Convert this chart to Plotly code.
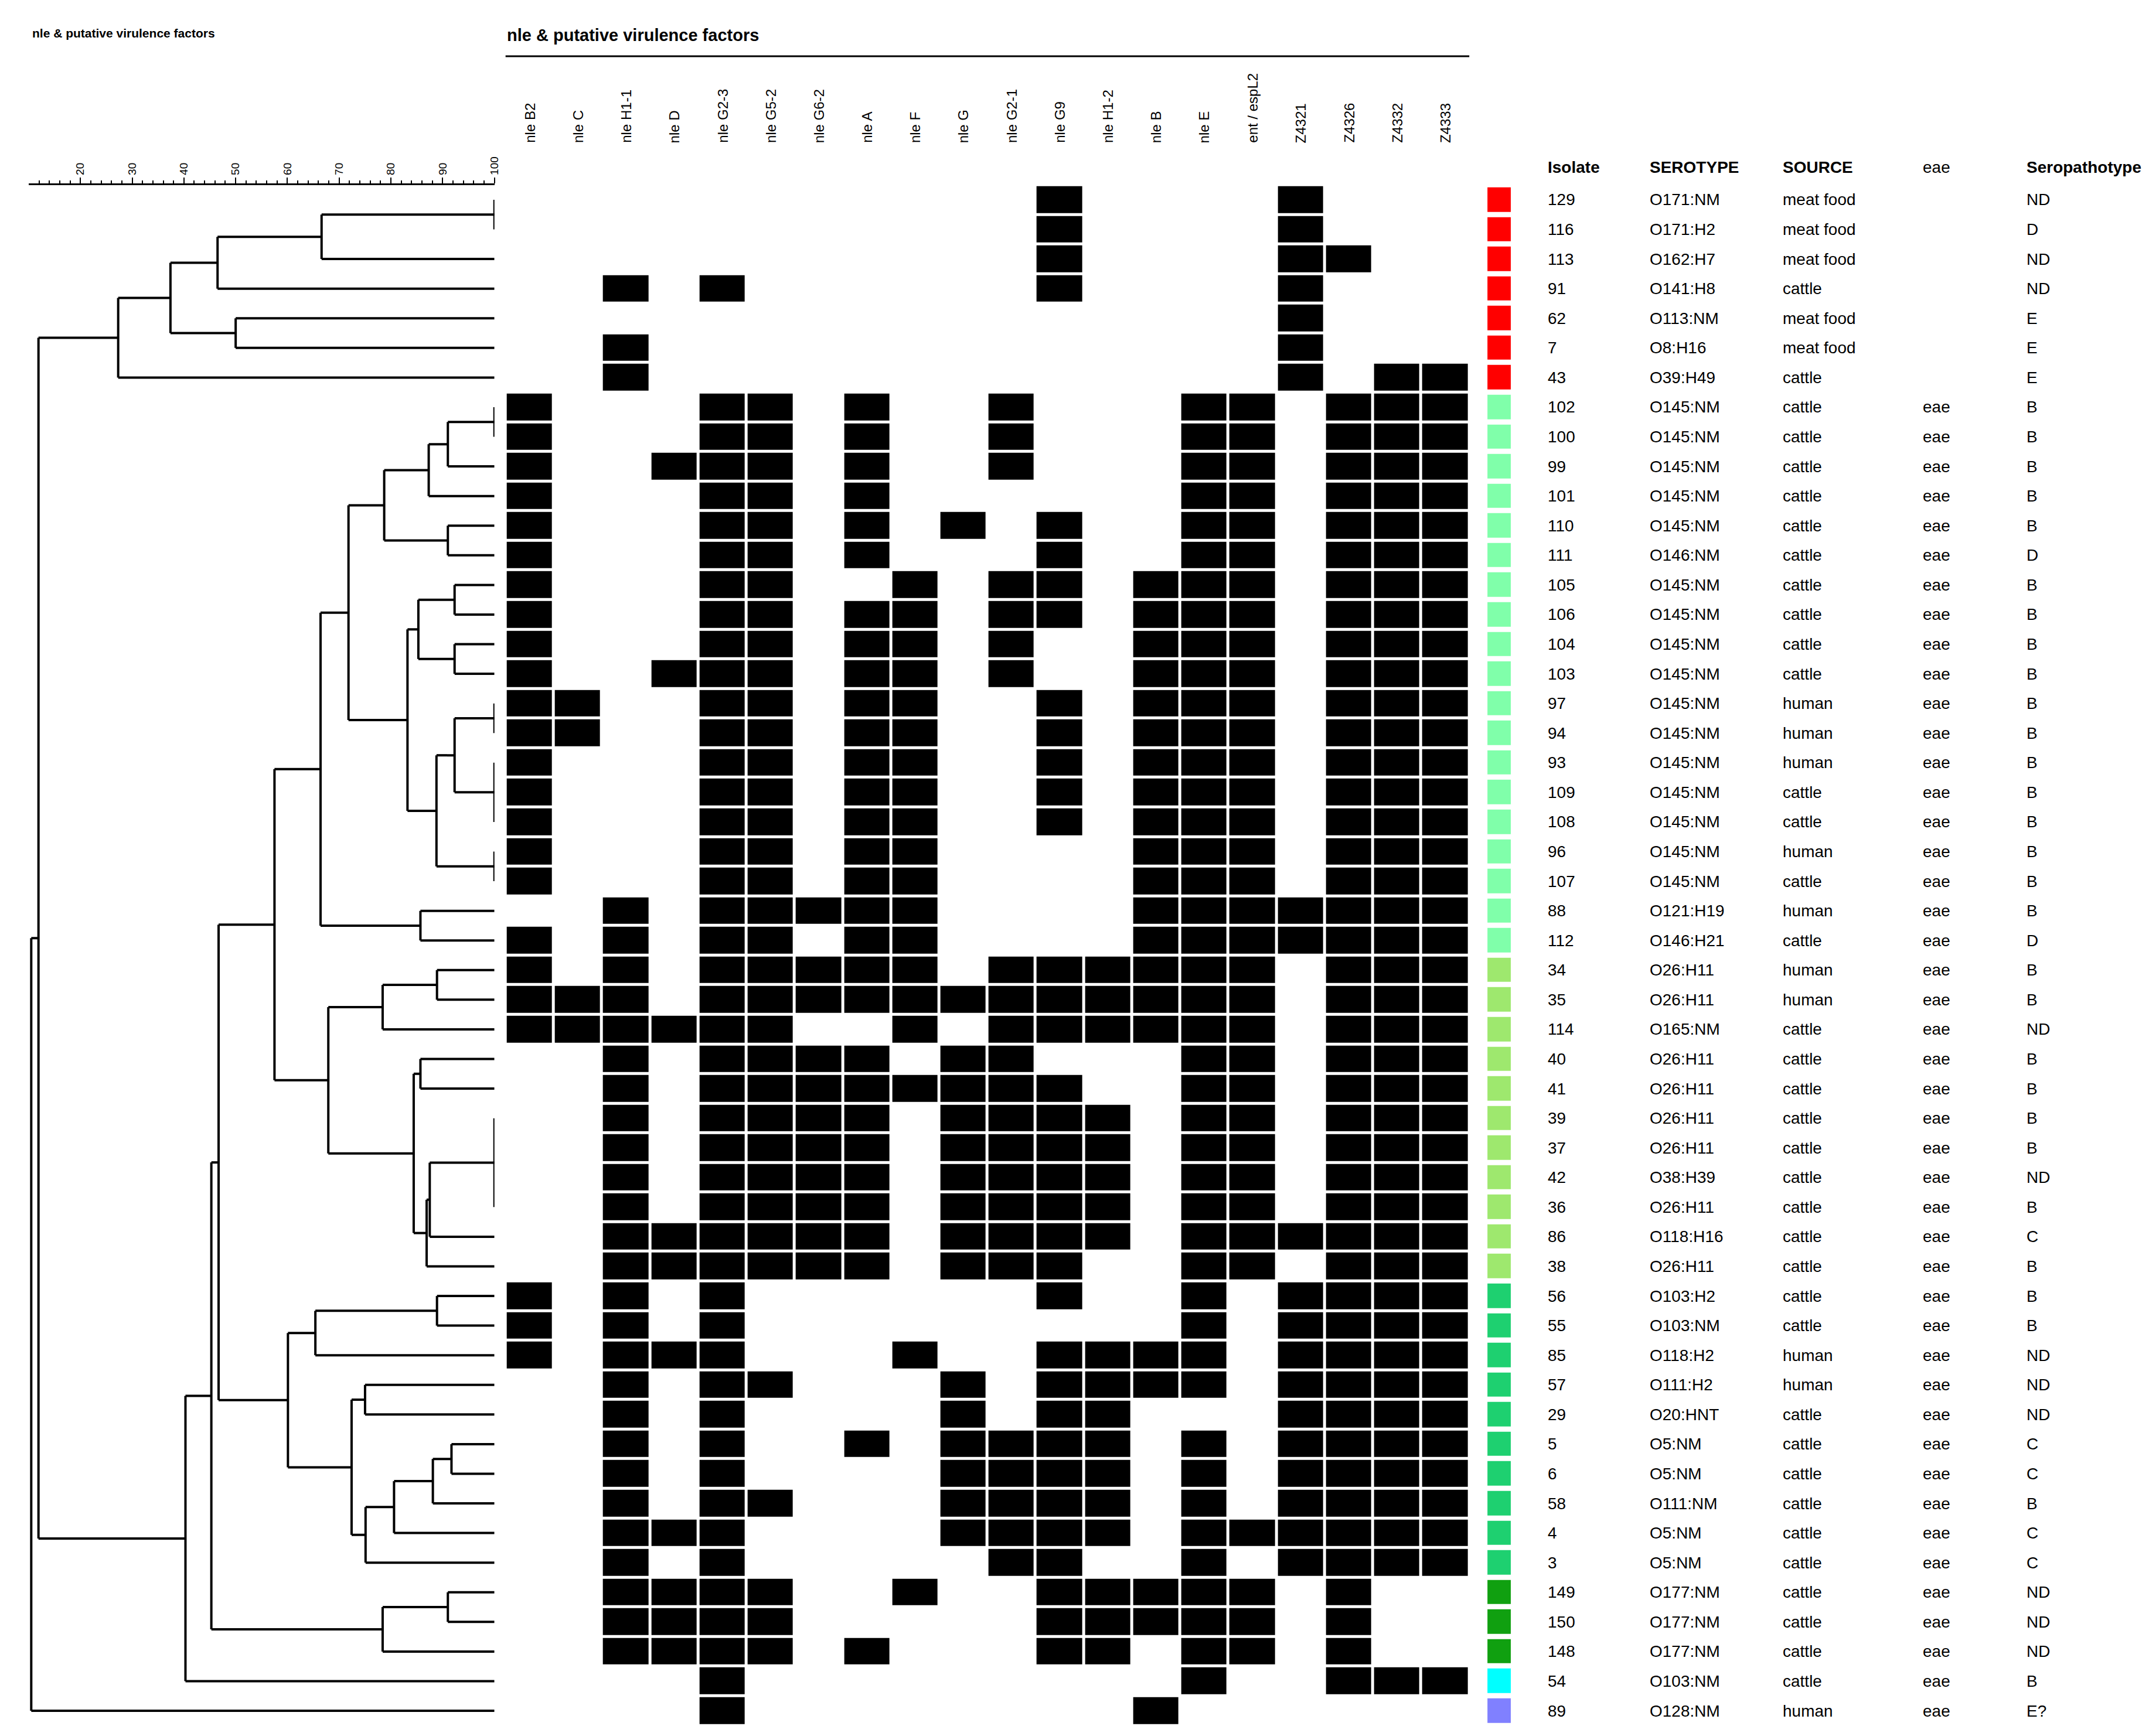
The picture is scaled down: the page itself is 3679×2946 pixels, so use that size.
import plotly.graph_objects as go

W, H = 3679, 2946
FONT = "Liberation Sans, Arial"

genes = ["nle B2", "nle C", "nle H1-1", "nle D", "nle G2-3", "nle G5-2", "nle G6-2", "nle A", "nle F", "nle G",
         "nle G2-1", "nle G9", "nle H1-2", "nle B", "nle E", "ent / espL2", "Z4321", "Z4326", "Z4332", "Z4333"]

isolates = ["129", "116", "113", "91", "62", "7", "43", "102", "100", "99", "101", "110", "111", "105", "106", "104",
            "103", "97", "94", "93", "109", "108", "96", "107", "88", "112", "34", "35", "114", "40", "41", "39", "37",
            "42", "36", "86", "38", "56", "55", "85", "57", "29", "5", "6", "58", "4", "3", "149", "150", "148", "54", "89"]
serotypes = ["O171:NM", "O171:H2", "O162:H7", "O141:H8", "O113:NM", "O8:H16", "O39:H49"] + ["O145:NM"] * 5 + \
    ["O146:NM"] + ["O145:NM"] * 11 + ["O121:H19", "O146:H21", "O26:H11", "O26:H11", "O165:NM", "O26:H11", "O26:H11",
    "O26:H11", "O26:H11", "O38:H39", "O26:H11", "O118:H16", "O26:H11", "O103:H2", "O103:NM", "O118:H2", "O111:H2",
    "O20:HNT", "O5:NM", "O5:NM", "O111:NM", "O5:NM", "O5:NM", "O177:NM", "O177:NM", "O177:NM", "O103:NM", "O128:NM"]
sources = ["meat food", "meat food", "meat food", "cattle", "meat food", "meat food", "cattle",
           "cattle", "cattle", "cattle", "cattle", "cattle", "cattle", "cattle", "cattle", "cattle", "cattle",
           "human", "human", "human", "cattle", "cattle", "human", "cattle", "human", "cattle",
           "human", "human", "cattle", "cattle", "cattle", "cattle", "cattle", "cattle", "cattle", "cattle", "cattle",
           "cattle", "cattle", "human", "human", "cattle", "cattle", "cattle", "cattle", "cattle", "cattle",
           "cattle", "cattle", "cattle", "cattle", "human"]
eae = [""] * 7 + ["eae"] * 45
seropathotypes = ["ND", "D", "ND", "ND", "E", "E", "E", "B", "B", "B", "B", "B", "D", "B", "B", "B", "B", "B", "B",
                  "B", "B", "B", "B", "B", "B", "D", "B", "B", "ND", "B", "B", "B", "B", "ND", "B", "C", "B", "B", "B",
                  "ND", "ND", "ND", "C", "C", "B", "C", "C", "ND", "ND", "ND", "B", "E?"]
groups = [0] * 7 + [1] * 19 + [2] * 11 + [3] * 10 + [4] * 3 + [5] + [6]
group_colors = ["#ff0000", "#80ffaa", "#9ee86e", "#1ed070", "#10a010", "#00ffff", "#8080ff"]

present = [
    [11, 16], [11, 16], [11, 16, 17], [2, 4, 11, 16], [16], [2, 16], [2, 16, 18, 19],
    [0, 4, 5, 7, 10, 14, 15, 17, 18, 19], [0, 4, 5, 7, 10, 14, 15, 17, 18, 19],
    [0, 3, 4, 5, 7, 10, 14, 15, 17, 18, 19], [0, 4, 5, 7, 14, 15, 17, 18, 19],
    [0, 4, 5, 7, 9, 11, 14, 15, 17, 18, 19], [0, 4, 5, 7, 11, 14, 15, 17, 18, 19],
    [0, 4, 5, 8, 10, 11, 13, 14, 15, 17, 18, 19], [0, 4, 5, 7, 8, 10, 11, 13, 14, 15, 17, 18, 19],
    [0, 4, 5, 7, 8, 10, 13, 14, 15, 17, 18, 19], [0, 3, 4, 5, 7, 8, 10, 13, 14, 15, 17, 18, 19],
    [0, 1, 4, 5, 7, 8, 11, 13, 14, 15, 17, 18, 19], [0, 1, 4, 5, 7, 8, 11, 13, 14, 15, 17, 18, 19],
    [0, 4, 5, 7, 8, 11, 13, 14, 15, 17, 18, 19], [0, 4, 5, 7, 8, 11, 13, 14, 15, 17, 18, 19],
    [0, 4, 5, 7, 8, 11, 13, 14, 15, 17, 18, 19], [0, 4, 5, 7, 8, 13, 14, 15, 17, 18, 19],
    [0, 4, 5, 7, 8, 13, 14, 15, 17, 18, 19], [2, 4, 5, 6, 7, 8, 13, 14, 15, 16, 17, 18, 19],
    [0, 2, 4, 5, 7, 8, 13, 14, 15, 16, 17, 18, 19],
    [0, 2, 4, 5, 6, 7, 8, 10, 11, 12, 13, 14, 15, 17, 18, 19],
    [0, 1, 2, 4, 5, 6, 7, 8, 9, 10, 11, 12, 13, 14, 15, 17, 18, 19],
    [0, 1, 2, 3, 4, 5, 8, 10, 11, 12, 13, 14, 15, 17, 18, 19],
    [2, 4, 5, 6, 7, 9, 10, 14, 15, 17, 18, 19], [2, 4, 5, 6, 7, 8, 9, 10, 11, 14, 15, 17, 18, 19],
    [2, 4, 5, 6, 7, 9, 10, 11, 12, 14, 15, 17, 18, 19], [2, 4, 5, 6, 7, 9, 10, 11, 12, 14, 15, 17, 18, 19],
    [2, 4, 5, 6, 7, 9, 10, 11, 12, 14, 15, 17, 18, 19], [2, 4, 5, 6, 7, 9, 10, 11, 12, 14, 15, 17, 18, 19],
    [2, 3, 4, 5, 6, 7, 9, 10, 11, 12, 14, 15, 16, 17, 18, 19], [2, 3, 4, 5, 6, 7, 9, 10, 11, 14, 15, 17, 18, 19],
    [0, 2, 4, 11, 14, 16, 17, 18, 19], [0, 2, 4, 14, 16, 17, 18, 19],
    [0, 2, 3, 4, 8, 11, 12, 13, 14, 16, 17, 18, 19], [2, 4, 5, 9, 11, 12, 13, 14, 16, 17, 18, 19],
    [2, 4, 9, 11, 12, 16, 17, 18, 19], [2, 4, 7, 9, 10, 11, 12, 14, 16, 17, 18, 19],
    [2, 4, 9, 10, 11, 12, 14, 16, 17, 18, 19], [2, 4, 5, 9, 10, 11, 12, 14, 16, 17, 18, 19],
    [2, 3, 4, 9, 10, 11, 12, 14, 15, 16, 17, 18, 19], [2, 4, 10, 11, 14, 16, 17, 18, 19],
    [2, 3, 4, 5, 8, 11, 12, 13, 14, 15, 17], [2, 3, 4, 5, 11, 12, 13, 14, 15, 17],
    [2, 3, 4, 5, 7, 11, 12, 14, 15, 17], [4, 14, 17, 18, 19], [4, 13],
]

# dendrogram: (similarity %, [children]); leaves are row indices
red_cluster = (27.3, [(37.4, [(46.5, [(66.6, [(100, [0, 1]), 2]), 3]), (50.0, [4, 5])]), 6])
o145_cluster = (71.8, [(78.7, [(87.3, [(91.0, [(100, [7, 8]), 9]), 10]), (91.0, [11, 12])]),
                       (83.2, [(85.3, [(92.3, [13, 14]), (92.3, [15, 16])]),
                               (88.8, [(92.3, [(100, [17, 18]), (100, [19, 20, 21])]), (100, [22, 23])])])])
n664 = (66.4, [o145_cluster, (85.7, [24, 25])])
n679 = (67.9, [(78.4, [(88.9, [26, 27]), 28]),
               (84.4, [(85.7, [29, 30]), (86.9, [(87.5, [(100, [31, 32, 33, 34]), 35]), 36])])])
n601 = (60.1, [(65.4, [(88.9, [37, 38]), 39]),
               (72.4, [(75.0, [40, 41]), (75.1, [(80.6, [(88.1, [(91.7, [42, 43]), 44]), 45]), 46])])])
n453 = (45.3, [(46.7, [(57.5, [n664, n679]), n601]), (78.4, [(91.0, [47, 48]), 49])])
tree = (10.5, [(11.9, [red_cluster, (40.3, [n453, 50])]), 51])

xs, ys = [], []


def draw(node):
    if isinstance(node, int):
        return 100.0, float(node)
    h, kids = node
    pos = [draw(k) for k in kids]
    for ch, cy in pos:
        xs.extend([h, ch, None]); ys.extend([cy, cy, None])
    y0, y1 = pos[0][1], pos[-1][1]
    xs.extend([h, h, None]); ys.extend([y0, y1, None])
    return h, (y0 + y1) / 2


draw(tree)

n = len(isolates)
z = [[1 if j in present[i] else 0 for j in range(len(genes))] for i in range(n)]


def px(x):
    return x / W


def py(y):
    return 1 - y / H


ydom = [py(2937.3), py(307.7)]
fig = go.Figure()
fig.add_trace(go.Scatter(x=xs, y=ys, mode="lines", line=dict(color="black", width=4), xaxis="x", yaxis="y",
                         hoverinfo="skip", showlegend=False))
fig.add_trace(go.Heatmap(z=z, x=list(range(len(genes))), y=list(range(n)), xaxis="x2", yaxis="y",
                         colorscale=[[0, "white"], [1, "black"]], zmin=0, zmax=1, showscale=False,
                         xgap=5, ygap=5))
fig.add_trace(go.Heatmap(z=[[g] for g in groups], x=[0], y=list(range(n)), xaxis="x3", yaxis="y",
                         colorscale=[[i / 6, c] for i, c in enumerate(group_colors)], zmin=0, zmax=6,
                         showscale=False, ygap=9))

BLACK = "black"
ann = []
cols = [(2638, "Isolate", isolates), (2813, "SEROTYPE", serotypes), (3040, "SOURCE", sources),
        (3280, "eae", eae), (3457, "Seropathotype", seropathotypes)]
for xp, head, vals in cols:
    ann.append(dict(x=px(xp), y=py(278), xref="paper", yref="paper",
                    text="<b>" + head + "</b>" if head != "eae" else head,
                    showarrow=False, xanchor="left", yanchor="middle", font=dict(size=28, family=FONT, color=BLACK)))
    for i, v in enumerate(vals):
        if v:
            ann.append(dict(x=px(xp), y=i, xref="paper", yref="y", text=v, showarrow=False,
                            xanchor="left", yanchor="middle", font=dict(size=28, family=FONT, color=BLACK)))
for j, g in enumerate(genes):
    ann.append(dict(x=j, y=py(238), xref="x2", yref="paper", text=g, textangle=-90, showarrow=False,
                    xanchor="center", yanchor="bottom", font=dict(size=24, family=FONT, color=BLACK)))
ann.append(dict(x=px(857), y=py(52), xref="paper", yref="paper", text="<b>nle & putative virulence factors</b>",
                showarrow=False, xanchor="left", yanchor="middle", font=dict(size=29, family=FONT, color=BLACK)))
ann.append(dict(x=px(45), y=py(48), xref="paper", yref="paper", text="<b>nle & putative virulence factors</b>",
                showarrow=False, xanchor="left", yanchor="middle", font=dict(size=21, family=FONT, color=BLACK)))

fig.update_layout(
    width=W, height=H, margin=dict(l=0, r=0, t=0, b=0), plot_bgcolor="white", paper_bgcolor="white",
    font=dict(family=FONT, color=BLACK),
    xaxis=dict(domain=[px(41), px(838)], range=[10, 100], side="top", anchor="y", showline=True,
               linecolor="black", linewidth=3, ticks="outside", ticklen=10, tickwidth=2, tickcolor="black",
               tickvals=list(range(20, 101, 10)), tickangle=-90, tickfont=dict(size=19, family=FONT, color=BLACK),
               minor=dict(tickvals=list(range(12, 100, 2)), ticks="outside", ticklen=5, tickcolor="black"),
               showgrid=False, zeroline=False),
    xaxis2=dict(domain=[px(857), px(2506)], range=[-0.5, 19.5], anchor="y", showticklabels=False,
                showgrid=False, zeroline=False),
    xaxis3=dict(domain=[px(2537), px(2577)], range=[-0.5, 0.5], anchor="y", showticklabels=False,
                showgrid=False, zeroline=False),
    yaxis=dict(domain=ydom, range=[n - 0.5, -0.5], showticklabels=False, showgrid=False, zeroline=False),
    shapes=[dict(type="line", xref="paper", yref="paper", x0=px(857), x1=px(2506), y0=py(88), y1=py(88),
                 line=dict(color="black", width=3))],
    annotations=ann,
)
fig.write_html("out.html")
